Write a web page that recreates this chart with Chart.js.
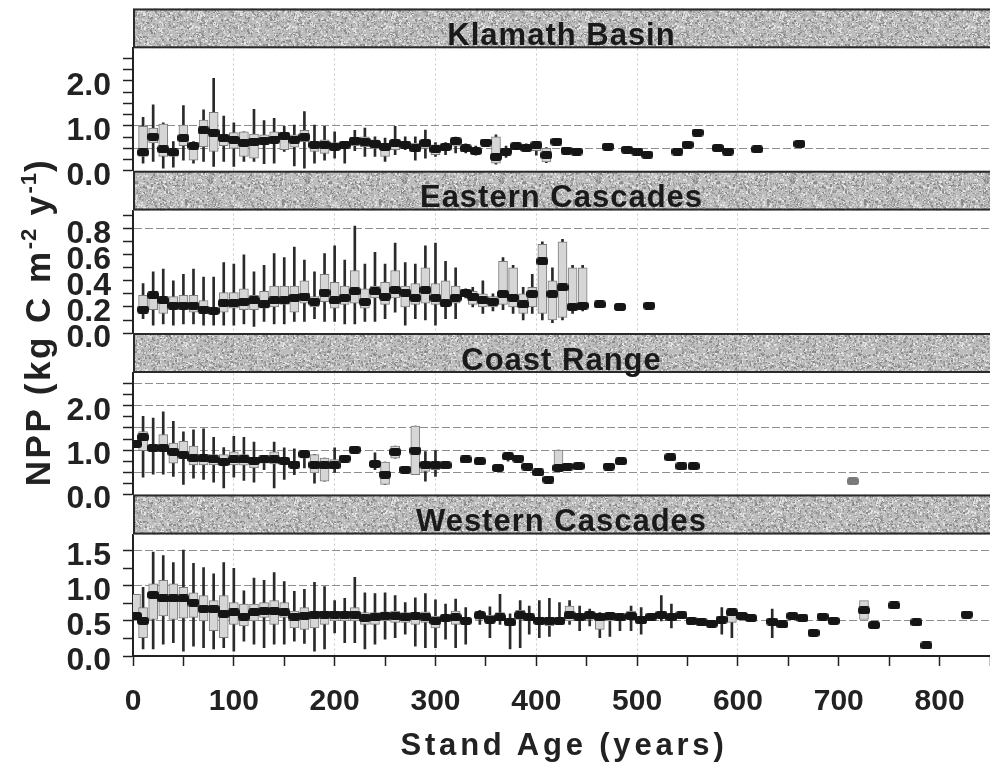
<!DOCTYPE html>
<html><head><meta charset="utf-8">
<script src="https://cdn.jsdelivr.net/npm/chart.js@4.4.1/dist/chart.umd.min.js"></script>
<style>
html,body{margin:0;padding:0;background:#fff;}
#wrap{position:relative;width:990px;height:771px;overflow:hidden;background:#fff;}
#c{position:absolute;left:0;top:0;}
.ttl{position:absolute;white-space:nowrap;font-family:"Liberation Sans",Arial,Helvetica,sans-serif;font-weight:bold;color:#222;text-align:center;}
#ytitle{left:0;top:0;width:420px;height:40px;line-height:40px;font-size:35px;letter-spacing:2.5px;transform-origin:0 0;transform:translate(18px,532px) rotate(-90deg);}
#ytitle span{font-size:22px;position:relative;top:-14px;letter-spacing:1px;}
#xtitle{left:264px;top:727px;width:600px;height:36px;line-height:36px;font-size:31px;letter-spacing:3.8px;}
</style>
</head><body>
<div id="wrap">
<canvas id="c" width="990" height="771"></canvas>
<div id="ytitle" class="ttl">NPP (kg C m<span>-2</span> y<span>-1</span>)</div>
<div id="xtitle" class="ttl">Stand Age (years)</div>
</div>
<script>
// ---------------- DATA ----------------
const PANEL_TITLES = ['Klamath Basin', 'Eastern Cascades', 'Coast Range', 'Western Cascades'];
const X_LABELS = [0, 100, 200, 300, 400, 500, 600, 700, 800];
const X_GRID = [100, 200, 300, 400, 500, 600];

// Klamath Basin
const K_AGE = [10,20,30,40,50,60,70,80,90,100,110,120,130,140,150,160,170,180,190,200,210,220,230,240,250,260,270,280,290,300,310,320,330,340,350,360,370,380,390,400,410,420,430,440,471,490,500,510,540,550,560,580,590,619,661];
const K_LO  = [0.17,0.21,0.06,0.08,0.24,0.17,0.21,0.10,0.21,0.10,0.21,0.21,0.16,0.17,0.43,0.11,0.06,0.17,0.24,0.28,0.17,0.45,0.32,0.32,0.21,0.36,0.47,0.24,0.28,0.32,0.36,0.40,0.40,0.35,0.55,0.15,0.30,0.50,0.45,0.35,0.18,null,null,null,null,null,null,null,null,null,null,null,null,null,null];
const K_Q1  = [0.32,0.62,0.32,0.32,0.56,0.24,0.54,0.43,0.56,0.50,0.32,0.28,0.58,0.62,0.47,0.53,0.65,0.43,0.39,0.47,0.50,0.56,0.54,0.50,0.32,0.47,0.53,0.43,0.50,0.36,0.45,0.55,0.45,0.40,0.58,0.17,0.35,0.52,0.48,0.45,0.20,null,null,null,null,null,null,null,null,null,null,null,null,null,null];
const K_MED = [0.41,0.76,0.48,0.41,0.73,0.56,0.90,0.85,0.73,0.69,0.62,0.65,0.67,0.69,0.78,0.69,0.75,0.58,0.58,0.53,0.58,0.67,0.65,0.60,0.53,0.62,0.58,0.50,0.62,0.48,0.53,0.66,0.50,0.44,0.63,0.31,0.43,0.55,0.51,0.57,0.35,0.65,0.45,0.43,0.54,0.47,0.43,0.36,0.43,0.58,0.85,0.51,0.43,0.48,0.60];
const K_Q3  = [0.99,0.95,1.04,0.47,1.02,0.62,1.13,1.30,0.78,0.85,0.87,0.82,0.80,0.87,0.85,0.80,0.90,0.65,0.69,0.63,0.62,0.75,0.76,0.69,0.62,0.69,0.65,0.62,0.69,0.58,0.58,0.70,0.55,0.50,0.67,0.76,0.50,0.58,0.55,0.60,0.50,null,null,null,null,null,null,null,null,null,null,null,null,null,null];
const K_HI  = [1.19,1.47,1.07,0.65,1.45,0.65,1.36,2.06,1.22,1.07,0.87,1.37,1.12,1.17,0.99,1.02,1.32,1.02,0.99,0.87,0.65,0.90,0.95,0.76,0.73,0.99,0.76,0.76,0.91,0.63,0.63,0.75,0.60,0.55,0.70,0.80,0.55,0.60,0.60,0.62,0.52,null,null,null,null,null,null,null,null,null,null,null,null,null,null];
const K_YLABELS = [0, 1, 2];
const K_GRID = [0.5, 1.0];

// Eastern Cascades
const E_AGE = [10,20,30,40,50,60,70,80,90,100,110,120,130,140,150,160,170,180,190,200,210,220,230,240,250,260,270,280,290,300,310,320,330,337,347,357,367,377,387,396,406,416,426,436,446,463,483,512];
const E_LO  = [0.11,0.06,0.07,0.06,0.07,0.07,0.06,0.06,0.06,0.06,0.07,0.05,0.09,0.07,0.07,0.09,0.09,0.11,0.09,0.09,0.07,0.07,0.09,0.09,0.11,0.16,0.06,0.11,0.10,0.06,0.11,0.11,0.27,0.20,0.15,0.17,0.18,0.15,0.10,0.15,0.10,0.08,0.10,0.15,0.17,null,null,null];
const E_Q1  = [0.15,0.18,0.15,0.19,0.19,0.16,0.15,0.15,0.16,0.19,0.18,0.18,0.19,0.20,0.22,0.16,0.23,0.20,0.24,0.19,0.22,0.23,0.19,0.27,0.22,0.27,0.20,0.22,0.23,0.22,0.20,0.23,0.29,0.22,0.20,0.20,0.22,0.20,0.15,0.20,0.15,0.10,0.12,0.18,0.19,null,null,null];
const E_MED = [0.18,0.29,0.25,0.21,0.21,0.21,0.18,0.17,0.23,0.23,0.24,0.25,0.22,0.25,0.25,0.27,0.28,0.24,0.31,0.25,0.27,0.32,0.24,0.32,0.28,0.33,0.31,0.27,0.33,0.27,0.23,0.27,0.31,0.28,0.25,0.24,0.30,0.27,0.22,0.30,0.55,0.30,0.35,0.20,0.21,0.22,0.20,0.21];
const E_Q3  = [0.29,0.32,0.27,0.28,0.29,0.29,0.25,0.19,0.31,0.31,0.34,0.29,0.32,0.36,0.36,0.36,0.40,0.28,0.45,0.39,0.36,0.48,0.34,0.36,0.39,0.48,0.36,0.38,0.50,0.38,0.40,0.36,0.33,0.32,0.30,0.28,0.55,0.50,0.30,0.35,0.68,0.40,0.70,0.50,0.50,null,null,null];
const E_HI  = [0.38,0.47,0.49,0.40,0.45,0.49,0.43,0.43,0.54,0.53,0.60,0.47,0.52,0.61,0.58,0.66,0.56,0.47,0.61,0.67,0.56,0.82,0.53,0.62,0.53,0.69,0.54,0.53,0.67,0.69,0.55,0.50,0.34,0.35,0.40,0.30,0.58,0.52,0.35,0.45,0.70,0.50,0.72,0.52,0.52,null,null,null];
const E_YLABELS = [0, 0.2, 0.4, 0.6, 0.8];
const E_GRID = [0.8];

// Coast Range
const C_AGE = [3,10,20,30,40,50,60,70,80,90,100,110,120,130,140,150,160,170,180,190,200,210,220,240,250,260,270,280,290,300,310,330,344,362,372,382,391,402,412,422,431,442,472,484,533,544,556];
const C_LO  = [null,0.39,0.46,0.46,0.41,0.23,0.37,0.34,0.28,0.15,0.39,0.32,0.28,0.56,0.15,0.34,0.45,0.60,0.26,0.30,0.50,null,null,0.56,0.23,0.82,null,0.45,0.30,0.41,null,null,null,null,0.75,null,null,null,null,0.55,null,null,null,null,null,null,null];
const C_Q1  = [null,0.99,0.97,0.97,0.71,0.82,0.67,0.67,0.67,0.69,0.67,0.66,0.60,0.71,0.69,0.71,0.60,0.82,0.49,0.30,0.58,null,null,0.62,0.23,0.82,null,0.45,0.52,0.56,null,null,null,null,0.78,null,null,null,null,0.58,null,null,null,null,null,null,null];
const C_MED = [1.14,1.29,1.05,1.05,0.96,0.90,0.82,0.82,0.79,0.73,0.79,0.79,0.76,0.79,0.79,0.76,0.67,0.91,0.67,0.66,0.66,0.81,1.01,0.69,0.45,0.96,0.56,0.99,0.67,0.66,0.66,0.79,0.75,0.60,0.86,0.81,0.63,0.50,0.34,0.60,0.63,0.64,0.63,0.75,0.84,0.64,0.64];
const C_Q3  = [null,1.42,1.12,1.35,1.16,1.20,1.09,0.86,0.90,0.90,0.96,0.90,0.84,0.84,0.96,0.82,0.75,0.97,0.90,0.82,0.79,null,null,0.75,0.73,1.09,null,1.54,0.71,0.73,null,null,null,null,0.93,null,null,null,null,1.00,null,null,null,null,null,null,null];
const C_HI  = [null,1.76,1.72,1.86,1.65,1.41,1.46,1.48,1.29,1.06,1.31,1.29,1.18,0.86,1.18,1.05,1.03,0.97,0.90,0.82,1.05,null,null,0.94,0.73,1.09,null,1.54,0.97,0.99,null,null,null,null,0.95,null,null,null,null,1.00,null,null,null,null,null,null,null];
const C_GRAY_AGE = [714];
const C_GRAY_VAL = [0.30];
const C_YLABELS = [0, 1, 2];
const C_GRID = [0.5, 1.0, 1.5, 2.0, 2.5];

// Western Cascades
const W_AGE = [3,10,20,30,40,50,60,70,80,90,100,110,120,130,140,150,160,170,180,190,200,210,220,230,240,250,260,270,280,290,300,310,320,330,344,354,364,374,384,393,403,413,423,433,443,453,463,473,483,494,504,514,524,534,544,554,564,574,584,594,604,613,634,644,654,664,675,684,695,725,735,755,777,787,827];
const W_LO  = [0.52,0.10,0.10,0.17,0.19,0.07,0.14,0.12,0.10,0.12,0.07,0.21,0.17,0.12,0.17,0.17,0.21,0.18,0.07,0.10,0.33,0.19,0.19,0.10,0.17,0.24,0.26,0.31,0.14,0.12,0.12,0.24,0.12,0.17,0.45,0.26,0.45,0.10,0.12,0.31,0.26,0.28,0.45,0.45,0.36,0.43,0.26,0.28,0.36,0.36,0.31,null,0.50,0.40,null,null,null,null,0.31,0.26,null,null,0.26,null,null,null,null,null,null,null,null,null,null,null,null];
const W_Q1  = [0.55,0.26,0.52,0.57,0.52,0.54,0.55,0.50,0.36,0.26,0.45,0.43,0.50,0.55,0.45,0.55,0.40,0.38,0.40,0.45,0.50,0.50,0.50,0.45,0.45,0.50,0.48,0.48,0.45,0.48,0.40,0.50,0.45,0.45,0.52,0.48,0.50,0.44,0.52,0.50,0.45,0.43,0.47,0.50,0.50,0.52,0.38,0.50,0.50,0.52,0.46,null,null,null,null,null,null,null,null,0.48,null,null,null,null,null,null,null,null,null,0.52,null,null,null,null,null];
const W_MED = [0.57,0.50,0.87,0.82,0.82,0.82,0.76,0.67,0.67,0.60,0.62,0.56,0.62,0.64,0.64,0.62,0.56,0.57,0.59,0.59,0.59,0.59,0.59,0.54,0.55,0.57,0.57,0.55,0.57,0.56,0.50,0.54,0.55,0.50,0.58,0.52,0.55,0.48,0.58,0.55,0.50,0.50,0.50,0.58,0.55,0.58,0.55,0.57,0.55,0.57,0.51,0.56,0.59,0.55,0.58,0.50,0.48,0.46,0.52,0.62,0.57,0.54,0.49,0.45,0.57,0.54,0.33,0.56,0.50,0.65,0.44,0.72,0.48,0.15,0.59];
const W_Q3  = [0.88,0.69,1.03,1.08,1.03,0.98,0.90,0.86,0.79,0.86,0.76,0.74,0.74,0.76,0.79,0.76,0.64,0.69,0.64,0.64,0.64,0.62,0.69,0.62,0.62,0.63,0.64,0.62,0.62,0.63,0.57,0.57,0.64,0.55,0.62,0.58,0.62,0.53,0.65,0.60,0.55,0.55,0.55,0.71,0.60,0.62,0.60,0.60,0.57,0.64,0.56,null,null,null,null,null,null,null,null,0.67,null,null,null,null,null,null,null,null,null,0.79,null,null,null,null,null];
const W_HI  = [0.88,0.98,1.48,1.43,1.33,1.51,1.32,1.26,1.17,1.33,1.25,0.93,1.11,1.08,1.19,1.06,0.92,0.95,1.05,0.99,0.79,0.82,1.12,0.90,0.89,0.90,0.86,0.76,0.83,0.89,0.80,0.74,0.81,0.69,0.65,0.70,0.88,0.60,0.79,0.71,0.79,0.82,0.76,0.79,0.71,0.67,0.62,0.62,0.57,0.71,0.69,null,0.86,0.74,null,null,null,null,0.69,0.67,null,null,0.67,null,null,null,null,null,null,null,null,null,null,null,null];
const W_YLABELS = [0, 0.5, 1.0, 1.5];
const W_GRID = [0.5, 1.0, 1.5];

// ---------------- BUILD ----------------
const FONT = '"Liberation Sans", Arial, Helvetica, sans-serif';

const PANELS = [
  {age:K_AGE, lo:K_LO, q1:K_Q1, med:K_MED, q3:K_Q3, hi:K_HI, max:2.727, step:0.25, labels:K_YLABELS, grid:K_GRID, hW:39.8, pW:122.7},
  {age:E_AGE, lo:E_LO, q1:E_Q1, med:E_MED, q3:E_Q3, hi:E_HI, max:0.940, step:0.1,  labels:E_YLABELS, grid:E_GRID, hW:39.7, pW:122.6},
  {age:C_AGE, lo:C_LO, q1:C_Q1, med:C_MED, q3:C_Q3, hi:C_HI, max:2.735, step:0.25, labels:C_YLABELS, grid:C_GRID, hW:40.0, pW:121.7},
  {age:W_AGE, lo:W_LO, q1:W_Q1, med:W_MED, q3:W_Q3, hi:W_HI, max:1.730, step:0.25, labels:W_YLABELS, grid:W_GRID, hW:40.0, pW:121.5}
];

function ranges(age, a, b) {
  const out = [];
  for (let i = 0; i < age.length; i++) if (a[i] != null && b[i] != null) out.push({x: age[i], y: [a[i], b[i]]});
  return out;
}
function points(age, v) {
  const out = [];
  for (let i = 0; i < age.length; i++) if (v[i] != null) out.push({x: age[i], y: v[i]});
  return out;
}
function marker(w, h, r, color) {
  const c = document.createElement('canvas'); c.width = w; c.height = h;
  const g = c.getContext('2d'); g.fillStyle = color;
  g.beginPath();
  g.moveTo(r, 0); g.lineTo(w - r, 0); g.arcTo(w, 0, w, r, r); g.lineTo(w, h - r); g.arcTo(w, h, w - r, h, r);
  g.lineTo(r, h); g.arcTo(0, h, 0, h - r, r); g.lineTo(0, r); g.arcTo(0, 0, r, 0, r); g.closePath(); g.fill();
  return c;
}
const MED_MARK = marker(12, 8, 3, '#151515');
const GRAY_MARK = marker(12, 8, 3, '#7a7a7a');

function texture(ctx) {
  const n = 97;
  const c = document.createElement('canvas'); c.width = n; c.height = n;
  const g = c.getContext('2d');
  g.fillStyle = '#bdbdbd'; g.fillRect(0, 0, n, n);
  let s = 20231;
  const next = () => { s = (Math.imul(s, 1103515245) + 12345) >>> 0; return s >>> 8; };
  const shades = ['#8a8a8a', '#9c9c9c', '#d4d4d4', '#e4e4e4', '#a6a6a6'];
  for (let i = 0; i < 2600; i++) {
    const x = next() % n, y = next() % n, k = next() % shades.length;
    g.fillStyle = shades[k]; g.fillRect(x, y, 1 + (next() % 2), 1 + (next() % 2));
  }
  return ctx.createPattern(c, 'repeat');
}

const datasets = [];
PANELS.forEach((p, i) => {
  const yid = 'y' + i;
  datasets.push({type: 'bar', label: PANEL_TITLES[i] + ' range', data: ranges(p.age, p.lo, p.hi), yAxisID: yid,
    backgroundColor: '#2a2a2a', borderWidth: 0, barThickness: 2, grouped: false, order: 3});
  datasets.push({type: 'bar', label: PANEL_TITLES[i] + ' quartiles', data: ranges(p.age, p.q1, p.q3), yAxisID: yid,
    backgroundColor: '#d6d6d6', borderColor: '#7c7c7c', borderWidth: 1, borderSkipped: false, barThickness: 9, grouped: false, order: 2});
  datasets.push({type: 'scatter', label: PANEL_TITLES[i] + ' median', data: points(p.age, p.med), yAxisID: yid,
    pointStyle: MED_MARK, pointRadius: 6, order: 1});
});
datasets.push({type: 'scatter', label: 'Coast Range single', data: points(C_GRAY_AGE, C_GRAY_VAL), yAxisID: 'y2',
  pointStyle: GRAY_MARK, pointRadius: 6, order: 0});

const near = (arr, v) => arr.some(a => Math.abs(a - v) < 1e-6);
const noPad = s => { s.paddingTop = 0; s.paddingBottom = 0; s.paddingLeft = 0; s.paddingRight = 0; };

const scales = {
  x: {
    type: 'linear', position: 'bottom', min: 0, max: 850, offset: false,
    afterFit: s => { s.height = 115; noPad(s); },
    ticks: {stepSize: 50, includeBounds: false, autoSkip: false, maxRotation: 0, minRotation: 0, padding: 18, color: '#222',
      font: {family: FONT, size: 30, weight: 'bold'},
      callback: v => near(X_LABELS, v) ? String(v) : ''},
    grid: {offset: false, lineWidth: 1, tickLength: 10, tickColor: '#222', tickWidth: 1.5,
      color: c => (c.tick && near(X_GRID, c.tick.value)) ? '#c9c9c9' : 'rgba(0,0,0,0)'},
    border: {display: true, color: '#222', width: 2, dash: [2, 3]}
  }
};
let w = 8;
PANELS.forEach((p, i) => {
  scales['h' + i] = {
    type: 'linear', position: 'left', stack: 'panels', stackWeight: p.hW, weight: w--,
    min: 0, max: 1, afterFit: s => { s.width = 133; noPad(s); },
    ticks: {display: false}, grid: {display: false}, border: {display: false}
  };
  scales['y' + i] = {
    type: 'linear', position: 'left', stack: 'panels', stackWeight: p.pW, weight: w--,
    min: 0, max: p.max, afterFit: s => { s.width = 133; noPad(s); },
    ticks: {stepSize: p.step, includeBounds: false, autoSkip: false, padding: 12, labelOffset: 5, color: '#222',
      font: {family: FONT, size: 32, weight: 'bold'},
      callback: v => near(p.labels, v) ? v.toFixed(1) : ''},
    grid: {lineWidth: 1, tickLength: 10, tickColor: '#222', tickWidth: 1.5,
      color: c => (c.tick && near(p.grid, c.tick.value)) ? '#8e8e8e' : 'rgba(0,0,0,0)'},
    border: {display: true, color: '#222', width: 2, dash: [8, 3]}
  };
});

let PATTERN = null;
const bandPlugin = {
  id: 'bands',
  beforeDatasetsDraw(chart) {
    const ctx = chart.ctx, ca = chart.chartArea;
    if (!PATTERN) PATTERN = texture(ctx);
    PANEL_TITLES.forEach((t, i) => {
      const s = chart.scales['h' + i];
      const top = s.top, bot = s.bottom;
      ctx.save();
      ctx.fillStyle = PATTERN;
      ctx.fillRect(ca.left, top, ca.right - ca.left, bot - top);
      ctx.strokeStyle = '#2a2a2a'; ctx.lineWidth = 2;
      ctx.beginPath();
      ctx.moveTo(ca.left, top + 1); ctx.lineTo(ca.right, top + 1);
      ctx.moveTo(ca.left, bot - 1); ctx.lineTo(ca.right, bot - 1);
      ctx.moveTo(ca.left + 1, top); ctx.lineTo(ca.left + 1, bot);
      ctx.stroke();
      ctx.fillStyle = '#1a1a1a';
      ctx.font = 'bold 31px ' + FONT;
      try { ctx.letterSpacing = '1px'; } catch (e) {}
      ctx.textAlign = 'center'; ctx.textBaseline = 'alphabetic';
      ctx.fillText(t, (ca.left + ca.right) / 2, bot - 3.5);
      ctx.restore();
    });
  }
};

new Chart(document.getElementById('c'), {
  type: 'bar',
  data: {datasets},
  options: {
    responsive: false, animation: false, devicePixelRatio: 1, events: [],
    layout: {autoPadding: false, padding: {top: 8.5, left: 0, right: 0, bottom: 0}},
    plugins: {legend: {display: false}, tooltip: {enabled: false}, title: {display: false}},
    scales
  },
  plugins: [bandPlugin]
});
</script>
</body></html>
